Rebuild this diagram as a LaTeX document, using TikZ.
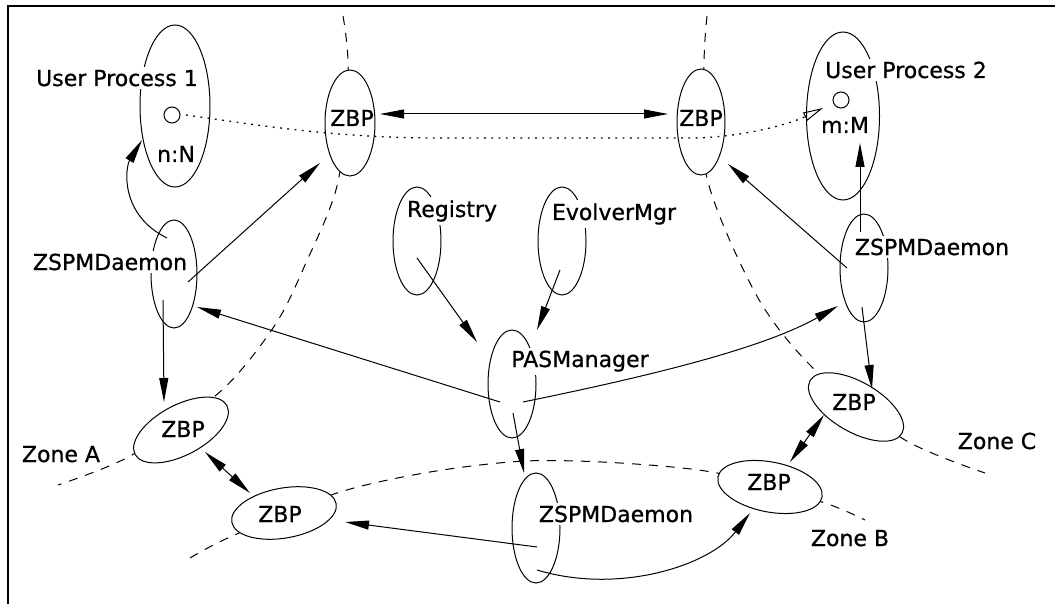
\documentclass[tikz,border=0pt]{standalone}
\usepackage{fontspec}
\setmainfont[FakeBold=0.8]{DejaVu Sans}
\usetikzlibrary{shapes.geometric,arrows.meta}
\begin{document}
\begin{tikzpicture}[x=1pt,y=-1pt,
  ell/.style={ellipse, draw, line width=1pt, inner sep=0pt, fill=white},
  port/.style={circle, draw, line width=1pt, inner sep=0pt, minimum size=16pt},
  lbl/.style={font=\fontsize{22}{26}\selectfont, inner sep=0pt, anchor=base},
  lblw/.style={lbl, fill=white, inner sep=3pt},
  arr/.style={line width=1pt, -{Triangle[length=24pt,width=9pt]}},
  darr/.style={line width=1pt, {Triangle[length=24pt,width=9pt]}-{Triangle[length=24pt,width=9pt]}},
  zone/.style={line width=1pt, dash pattern=on 9pt off 8pt},
  dotl/.style={line width=1.3pt, dash pattern=on 1.8pt off 5.5pt},
]
\useasboundingbox (0,0) rectangle (1055,604);

% zone boundaries
\draw[zone] plot[smooth] coordinates {(343,16) (348,70) (338,182) (305,265) (275,325) (222,390) (132,455) (58,485)};
\draw[zone] plot[smooth] coordinates {(190,558) (230,537) (337,493) (430,472) (525,461) (620,463) (717,473) (822,502) (865,520)};
\draw[zone] plot[smooth] coordinates {(707,16) (704,66) (707,178) (758,298) (817,372) (905,440) (985,473)};

% ellipses
\node[ell, minimum width=70pt, minimum height=162pt] (up1) at (175,106) {};
\node[ell, minimum width=73pt, minimum height=168pt] (up2) at (843,116) {};
\node[ell, minimum width=50pt, minimum height=106pt] (zbp1) at (350,123) {};
\node[ell, minimum width=48pt, minimum height=106pt] (zbp2) at (701,122) {};
\node[ell, minimum width=46pt, minimum height=108pt] (zd1) at (174,274) {};
\node[ell, minimum width=48pt, minimum height=108pt] (zd2) at (864,268) {};
\node[ell, minimum width=48pt, minimum height=110pt] (zd3) at (536,528) {};
\node[ell, minimum width=48pt, minimum height=108pt] (reg) at (417,241) {};
\node[ell, minimum width=48pt, minimum height=108pt] (evo) at (562,241) {};
\node[ell, minimum width=48pt, minimum height=108pt] (pas) at (512,384) {};
\node[ell, minimum width=104pt, minimum height=50pt, rotate=28] (zbpa) at (181,430) {};
\node[ell, minimum width=106pt, minimum height=50pt, rotate=10] (zbpbl) at (284,513) {};
\node[ell, minimum width=106pt, minimum height=50pt, rotate=-11] (zbpbr) at (770,487) {};
\node[ell, minimum width=106pt, minimum height=50pt, rotate=-30] (zbpc) at (856,407) {};

% ports
\node[port] (c1) at (172,115) {};
\node[port] (c2) at (841,100) {};

% labels
\node[lblw] (lup1) at (117,86) {User Process 1};
\node[lbl] (lnn) at (176,162) {n:N};
\node[lblw] (lup2) at (906,78) {User Process 2};
\node[lbl] (lmm) at (845,133) {m:M};
\node[lbl] (lzbp1) at (352,126) {ZBP};
\node[lbl] (lzbp2) at (701,126) {ZBP};
\node[lblw] (lzd1) at (110,270) {ZSPMDaemon};
\node[lblw] (lzd2) at (932,255) {ZSPMDaemon};
\node[lblw] (lzd3) at (616,522) {ZSPMDaemon};
\node[lblw] (lreg) at (452,217) {Registry};
\node[lblw] (levo) at (614,220) {EvolverMgr};
\node[lblw] (lpas) at (580,367) {PASManager};
\node[lbl] (lzbpa) at (183,437) {ZBP};
\node[lbl] (lzbpbl) at (280,522) {ZBP};
\node[lbl] (lzbpbr) at (769,490) {ZBP};
\node[lbl] (lzbpc) at (854,410) {ZBP};
\node[lbl] (lza) at (61,462) {Zone A};
\node[lbl] (lzb) at (850,546) {Zone B};
\node[lbl] (lzc) at (997,449) {Zone C};

% connector end points
\coordinate (d0) at (186,115);
\coordinate (d9) at (823,108);
\coordinate (a1s) at (167,238);  \coordinate (a1e) at (142,140);
\coordinate (a2s) at (188,282);  \coordinate (a2e) at (320,163);
\coordinate (a3s) at (163,300);  \coordinate (a3e) at (164,402);
\coordinate (a4s) at (500,402);  \coordinate (a4e) at (197,307);
\coordinate (a5s) at (417,258);  \coordinate (a5e) at (477,342);
\coordinate (a6s) at (560,270);  \coordinate (a6e) at (537,330);
\coordinate (a7s) at (523,402);  \coordinate (a7e) at (838,306);
\coordinate (a8s) at (513,413);  \coordinate (a8e) at (524,473);
\coordinate (a9s) at (537,547);  \coordinate (a9e) at (345,522);
\coordinate (b1s) at (537,570);  \coordinate (b1e) at (750,513);
\coordinate (b2s) at (860,232);  \coordinate (b2e) at (860,143);
\coordinate (b3s) at (847,268);  \coordinate (b3e) at (728,164);
\coordinate (b4s) at (862,307);  \coordinate (b4e) at (872,389);
\coordinate (e1s) at (380,114);  \coordinate (e1e) at (668,114);
\coordinate (e2s) at (205,452);  \coordinate (e2e) at (250,493);
\coordinate (e3s) at (790,462);  \coordinate (e3e) at (824,415);

% dotted binding
\draw[dotl, -{Triangle[open,length=20pt,width=9pt,line width=1pt]}]
  (d0) .. controls (270,127) and (340,138) .. (440,138) -- (690,138)
       .. controls (740,138) and (790,124) .. (d9);

% arrows
\draw[arr] (a1s) .. controls (120,215) and (125,168) .. (a1e);
\draw[arr] (a2s) -- (a2e);
\draw[arr] (a3s) -- (a3e);
\draw[arr] (a4s) -- (a4e);
\draw[arr] (a5s) -- (a5e);
\draw[arr] (a6s) -- (a6e);
\draw[arr] (a7s) .. controls (640,378) and (760,350) .. (a7e);
\draw[arr] (a8s) -- (a8e);
\draw[arr] (a9s) -- (a9e);
\draw[arr] (b1s) .. controls (620,595) and (710,565) .. (b1e);
\draw[arr] (b2s) -- (b2e);
\draw[arr] (b3s) -- (b3e);
\draw[arr] (b4s) -- (b4e);
\draw[darr] (e1s) -- (e1e);
\draw[darr] (e2s) -- (e2e);
\draw[darr] (e3s) -- (e3e);

% frame
\draw[line width=1.6pt] (1055,6) -- (8,6) -- (8,604);
\end{tikzpicture}
\end{document}
